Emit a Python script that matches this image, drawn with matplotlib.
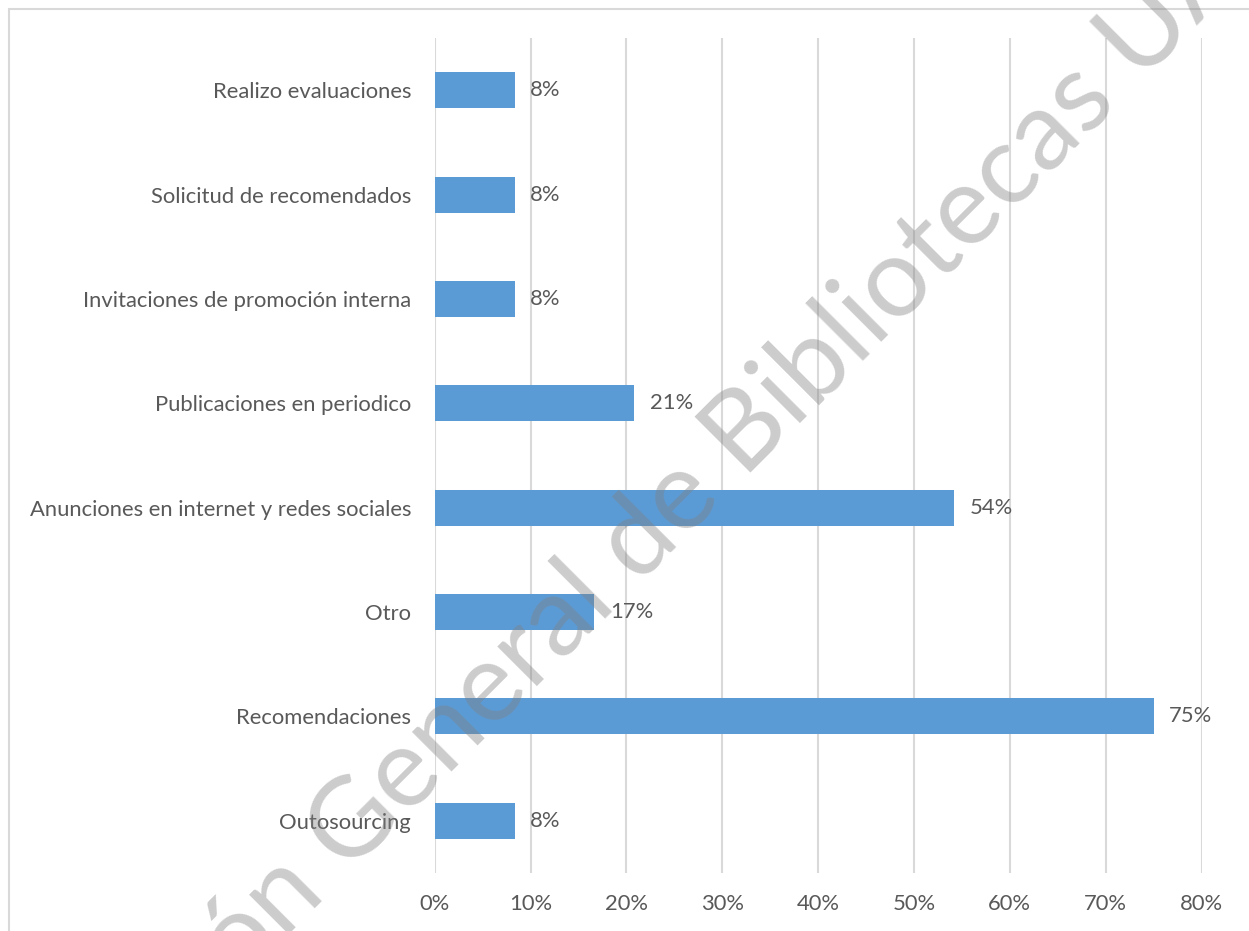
import matplotlib.pyplot as plt
from matplotlib.patches import Rectangle
from matplotlib.ticker import PercentFormatter

categorias = ['Outosourcing', 'Recomendaciones', 'Otro',
              'Anunciones en internet y redes sociales',
              'Publicaciones en periodico',
              'Invitaciones de promoción interna',
              'Solicitud de recomendados', 'Realizo evaluaciones']
respuestas = [2, 18, 4, 13, 5, 2, 2, 2]
total = 24
porcentajes = [r / total * 100 for r in respuestas]

gris_texto = '#595959'
gris_lineas = '#d9d9d9'
azul = '#5b9bd5'

plt.rcParams['font.family'] = ['Lato', 'DejaVu Sans']

fig = plt.figure(figsize=(12.49, 9.31), dpi=100)
ax = fig.add_axes([0.348, 0.0623, 0.614, 0.8967])

y = range(len(categorias))
ax.barh(y, porcentajes, height=0.345, color=azul, zorder=2)
for yi, p in zip(y, porcentajes):
    ax.text(p + 1.6, yi, f'{p:.0f}%', va='center', ha='left',
            fontsize=15.8, color=gris_texto)

ax.set_xlim(0, 80)
ax.set_ylim(-0.5, len(categorias) - 0.5)
ax.set_xticks(range(0, 81, 10))
ax.xaxis.set_major_formatter(PercentFormatter(decimals=0))
ax.set_yticks(list(y))
ax.set_yticklabels(categorias)
ax.tick_params(axis='both', length=0, labelsize=15.8, labelcolor=gris_texto)
ax.tick_params(axis='y', pad=17)
ax.tick_params(axis='x', pad=15)
ax.grid(axis='x', color=gris_lineas, linewidth=1.5, zorder=0)
ax.set_axisbelow(True)
for s in ax.spines.values():
    s.set_visible(False)

# marco del gráfico
fig.patches.append(Rectangle((9 / 1249, -0.1), 1.2, 1 - 9 / 931 + 0.1,
                             transform=fig.transFigure, fill=False,
                             edgecolor=gris_lineas, linewidth=1.5))

# marca de agua
fig.text(0.507, 0.414, 'Dirección General de Bibliotecas UAQ', rotation=45,
         rotation_mode='anchor', ha='center', va='center', fontsize=80,
         color='#808080', alpha=0.4, zorder=10)

fig.savefig('out.png', dpi=100)
